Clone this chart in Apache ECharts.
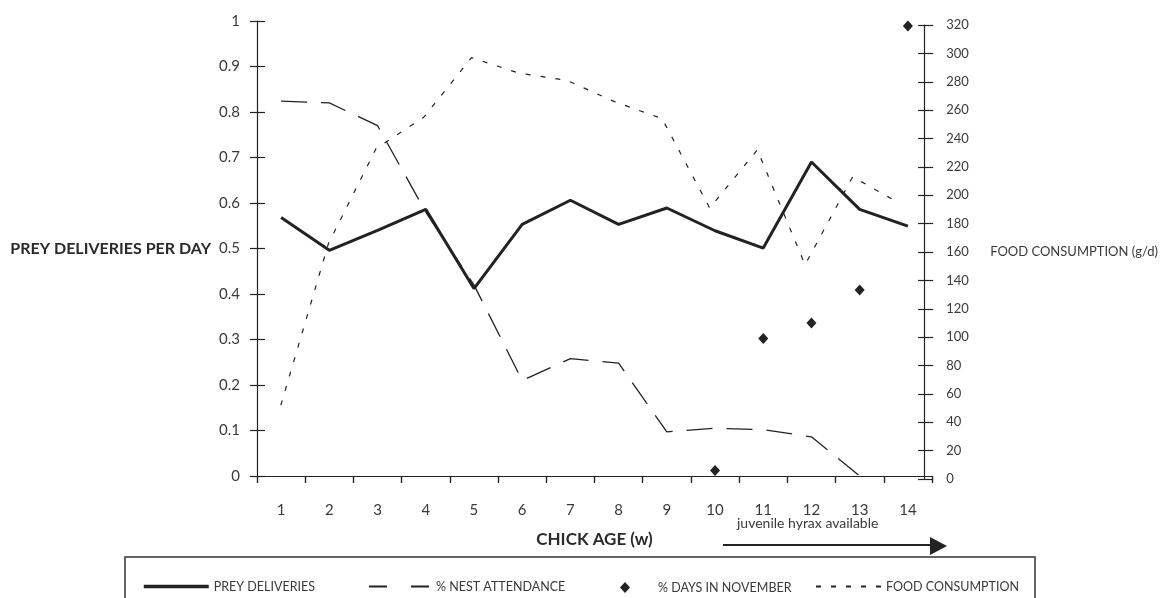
<!DOCTYPE html>
<html>
<head>
<meta charset="utf-8">
<script src="https://cdn.jsdelivr.net/npm/echarts@6/dist/echarts.min.js"></script>
<style>
html,body{margin:0;padding:0;background:#fff;}
#chart{width:1161px;height:598px;}
</style>
</head>
<body>
<div id="chart"></div>
<script>
// ---- data ----
var weeks = ['1','2','3','4','5','6','7','8','9','10','11','12','13','14'];
var preyDeliveries = [0.568,0.496,0.54,0.586,0.412,0.553,0.606,0.553,0.589,0.539,0.501,0.690,0.586,0.549];
var nestAttendance = [0.824,0.820,0.77,0.58,0.42,0.21,0.258,0.248,0.097,0.105,0.102,0.086,0,null];
var daysInNovember = [null,null,null,null,null,null,null,null,null,0.012,0.302,0.336,0.409,0.989];
var foodConsumption = [52,166,233,255,297,286,281,266,254,191,232,151,213,194];

var FONT = 'Lato, "Noto Sans", sans-serif';
var INK = '#222';
var TXT = '#3a3a3a';
var NOSYM = {color: 'rgba(0,0,0,0)', borderColor: 'rgba(0,0,0,0)', borderWidth: 0};

var chart = echarts.init(document.getElementById('chart'));
chart.setOption({
  backgroundColor: '#fff',
  animation: false,
  grid: [
    {left: 257, right: 229, top: 21, bottom: 122},
    {left: 257, right: 229, top: 25, bottom: 119}
  ],
  xAxis: [
    {type: 'category', gridIndex: 0, data: weeks, boundaryGap: true,
     axisLine: {lineStyle: {color: INK, width: 1.2}},
     axisTick: {show: true, length: 7, lineStyle: {color: INK, width: 1.2}},
     axisLabel: {color: TXT, fontFamily: FONT, fontSize: 15, margin: 27},
     name: 'CHICK AGE (w)', nameLocation: 'middle', nameGap: 55,
     nameTextStyle: {color: '#2a2a2a', fontFamily: FONT, fontSize: 17, fontWeight: 'bold'}},
    {type: 'category', gridIndex: 0, data: weeks, boundaryGap: true,
     axisLine: {show: false},
     axisTick: {show: true, inside: true, length: 6, lineStyle: {color: INK, width: 1.2}},
     axisLabel: {show: false}},
    {type: 'category', gridIndex: 1, data: weeks, boundaryGap: true, show: false}
  ],
  yAxis: [
    {type: 'value', gridIndex: 0, position: 'left', min: 0, max: 1, interval: 0.1,
     splitLine: {show: false},
     axisLine: {show: true, lineStyle: {color: INK, width: 1.2}},
     axisTick: {show: true, length: 7, lineStyle: {color: INK, width: 1.2}},
     axisLabel: {color: TXT, fontFamily: FONT, fontSize: 15, margin: 17},
     name: 'PREY DELIVERIES PER DAY', nameLocation: 'middle', nameRotate: 0, nameGap: 46,
     nameTextStyle: {color: '#2a2a2a', fontFamily: FONT, fontSize: 16, fontWeight: 'bold'}},
    {type: 'value', gridIndex: 0, position: 'left', min: 0, max: 1, interval: 0.1,
     splitLine: {show: false}, axisLine: {show: false},
     axisTick: {show: true, inside: true, length: 8, lineStyle: {color: INK, width: 1.2}},
     axisLabel: {show: false}},
    {type: 'value', gridIndex: 1, position: 'right', min: 0, max: 320, interval: 20,
     splitLine: {show: false},
     axisLine: {show: true, lineStyle: {color: INK, width: 1.2}},
     axisTick: {show: true, length: 9, lineStyle: {color: INK, width: 1.2}},
     axisLabel: {color: TXT, fontFamily: FONT, fontSize: 13, margin: 22},
     name: 'FOOD CONSUMPTION (g/d)', nameLocation: 'middle', nameRotate: 0, nameGap: 66,
     nameTextStyle: {color: TXT, fontFamily: FONT, fontSize: 13}},
    {type: 'value', gridIndex: 1, position: 'right', min: 0, max: 320, interval: 20,
     splitLine: {show: false}, axisLine: {show: false},
     axisTick: {show: true, inside: true, length: 6, lineStyle: {color: INK, width: 1.2}},
     axisLabel: {show: false}}
  ],
  legend: [
    {left: 137, top: 575, itemWidth: 65, itemHeight: 14, data: ['PREY DELIVERIES'],
     itemStyle: NOSYM, lineStyle: {width: 3.5},
     textStyle: {color: TXT, fontFamily: FONT, fontSize: 12.5}},
    {left: 363, top: 575, itemWidth: 62, itemHeight: 14, data: ['% NEST ATTENDANCE'],
     itemStyle: NOSYM, lineStyle: {type: [18, 24]},
     textStyle: {color: TXT, fontFamily: FONT, fontSize: 12.5}},
    {left: 615, top: 576, itemWidth: 10, itemHeight: 11, data: ['% DAYS IN NOVEMBER'],
     itemStyle: {opacity: 1},
     textStyle: {color: TXT, fontFamily: FONT, fontSize: 12.5, padding: [0, 0, 0, 23]}},
    {left: 810, top: 575, itemWidth: 65, itemHeight: 14, data: ['FOOD CONSUMPTION'],
     itemStyle: NOSYM,
     textStyle: {color: TXT, fontFamily: FONT, fontSize: 12.5}}
  ],
  graphic: [
    {type: 'rect', shape: {x: 125, y: 557, width: 910, height: 60},
     style: {fill: 'none', stroke: '#333', lineWidth: 1.5}, silent: true},
    {type: 'text', left: 737, top: 516,
     style: {text: 'juvenile hyrax available', fill: TXT, font: '14px ' + FONT}},
    {type: 'line', shape: {x1: 723, y1: 545, x2: 932, y2: 545},
     style: {stroke: '#222', lineWidth: 2}},
    {type: 'polygon', shape: {points: [[930, 537], [947, 546], [930, 555]]},
     style: {fill: '#222'}}
  ],
  series: [
    {name: 'PREY DELIVERIES', type: 'line', xAxisIndex: 0, yAxisIndex: 0,
     data: preyDeliveries, symbol: 'none', color: INK,
     lineStyle: {color: INK, width: 3}, z: 5},
    {name: '% NEST ATTENDANCE', type: 'line', xAxisIndex: 0, yAxisIndex: 0,
     data: nestAttendance, symbol: 'none', color: INK,
     lineStyle: {color: INK, width: 1.3, type: [26, 14]}},
    {name: '% DAYS IN NOVEMBER', type: 'scatter', xAxisIndex: 0, yAxisIndex: 0,
     data: daysInNovember, symbol: 'diamond', symbolSize: [10, 11], color: '#222',
     itemStyle: {color: '#222', opacity: 1}},
    {name: 'FOOD CONSUMPTION', type: 'line', xAxisIndex: 2, yAxisIndex: 2,
     data: foodConsumption, symbol: 'none', color: INK,
     lineStyle: {color: INK, width: 1.2, type: [5, 10]}}
  ]
});
</script>
</body>
</html>
